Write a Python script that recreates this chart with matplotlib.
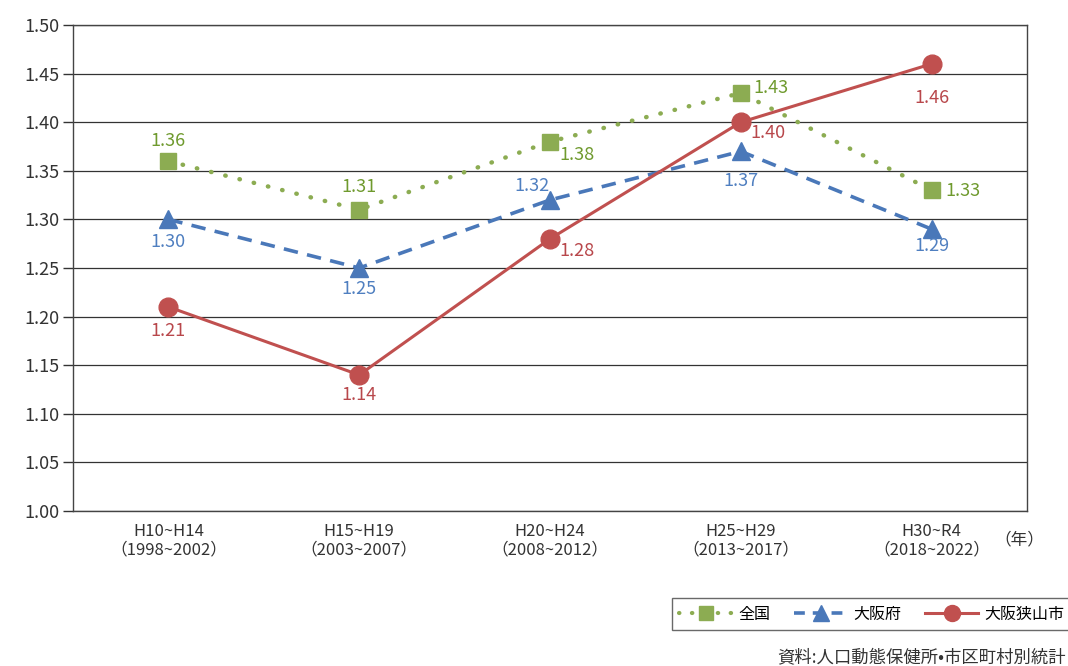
import matplotlib
matplotlib.use("Agg")
import matplotlib.pyplot as plt
from matplotlib.lines import Line2D

plt.rcParams['font.family'] = ['Noto Sans CJK JP', 'DejaVu Sans']

categories = ["H10~H14\n（1998~2002）", "H15~H19\n（2003~2007）", "H20~H24\n（2008~2012）",
              "H25~H29\n（2013~2017）", "H30~R4\n（2018~2022）"]
zenkoku = [1.36, 1.31, 1.38, 1.43, 1.33]
osakafu = [1.30, 1.25, 1.32, 1.37, 1.29]
sayama = [1.21, 1.14, 1.28, 1.40, 1.46]
yticks = [1.00, 1.05, 1.10, 1.15, 1.20, 1.25, 1.30, 1.35, 1.40, 1.45, 1.50]

green = "#8cac52"
blue = "#4a78b9"
red = "#c0504f"
green_t = "#6f9a2e"
blue_t = "#4f7fc0"
red_t = "#b8474b"

fig = plt.figure(figsize=(10.68, 6.66), dpi=100)
ax = fig.add_axes([73/1068, 1-511/666, (1027-73)/1068, (511-25)/666])

x = list(range(len(categories)))
ax.set_xlim(-0.5, 4.5)
ax.set_ylim(1.00, 1.50)
ax.set_yticks(yticks)
ax.set_yticklabels([f"{v:.2f}" for v in yticks], fontsize=13, color="#333333")
ax.set_xticks(x)
ax.set_xticklabels(categories, fontsize=12, color="#333333", linespacing=1.05)
ax.tick_params(axis='x', length=0, pad=9)
ax.tick_params(axis='y', length=7, width=1, color="#333333", pad=3)
ax.grid(axis='y', color="#333333", linewidth=0.9)
ax.set_axisbelow(True)
for s in ax.spines.values():
    s.set_color("#444444")
    s.set_linewidth(1.0)

l1, = ax.plot(x, zenkoku, color=green, linestyle=(0, (0.1, 3.2)), dash_capstyle='round',
              linewidth=3.2, marker='s', markersize=12, markerfacecolor=green,
              markeredgecolor=green, zorder=3)
l2, = ax.plot(x, osakafu, color=blue, linestyle=(0, (4, 2.6)), linewidth=2.6,
              marker='^', markersize=13.5, markerfacecolor=blue, markeredgecolor=blue, zorder=3)
l3, = ax.plot(x, sayama, color=red, linestyle='-', linewidth=2.2,
              marker='o', markersize=13.5, markerfacecolor=red, markeredgecolor=red, zorder=4)

off_z = [(0, 20), (0, 23), (27, -13), (30, 5), (31, -1)]
off_o = [(0, -23), (0, -21), (-18, 14), (0, -30), (0, -17)]
off_s = [(0, -24), (0, -20), (27, -12), (27, -11), (0, -34)]
for vals, offs, col in [(zenkoku, off_z, green_t), (osakafu, off_o, blue_t), (sayama, off_s, red_t)]:
    for xi, v, (dx, dy) in zip(x, vals, offs):
        ax.annotate(f"{v:.2f}", (xi, v), xytext=(dx, dy), textcoords='offset pixels',
                    ha='center', va='center', fontsize=13, color=col, zorder=5)

fig.text(994/1068, 1-540/666, "（年）", ha='left', va='center', fontsize=12, color="#333333")

h1 = Line2D([], [], color=green, linestyle=(0, (0.1, 3.0)), dash_capstyle='round', linewidth=3.0,
            marker='s', markersize=10, markerfacecolor=green, markeredgecolor=green)
h2 = Line2D([], [], color=blue, linestyle=(0, (3.0, 2.2)), linewidth=2.6,
            marker='^', markersize=11, markerfacecolor=blue, markeredgecolor=blue)
h3 = Line2D([], [], color=red, linestyle='-', linewidth=2.2,
            marker='o', markersize=11.5, markerfacecolor=red, markeredgecolor=red)
leg = fig.legend([h1, h2, h3], ["全国", "大阪府", "大阪狭山市"], loc='center left',
                 bbox_to_anchor=(672/1068, 1-614/666), ncol=3, fontsize=11.5,
                 frameon=True, fancybox=False, edgecolor="#444444", handlelength=3.3,
                 columnspacing=1.5, handletextpad=0.4, borderpad=0.45, borderaxespad=0)
leg.get_frame().set_linewidth(1.0)

fig.text(1066/1068, 1-657/666, "資料:人口動態保健所•市区町村別統計", ha='right', va='center',
         fontsize=12.5, color="#333333")

fig.savefig("out.png", dpi=100)
